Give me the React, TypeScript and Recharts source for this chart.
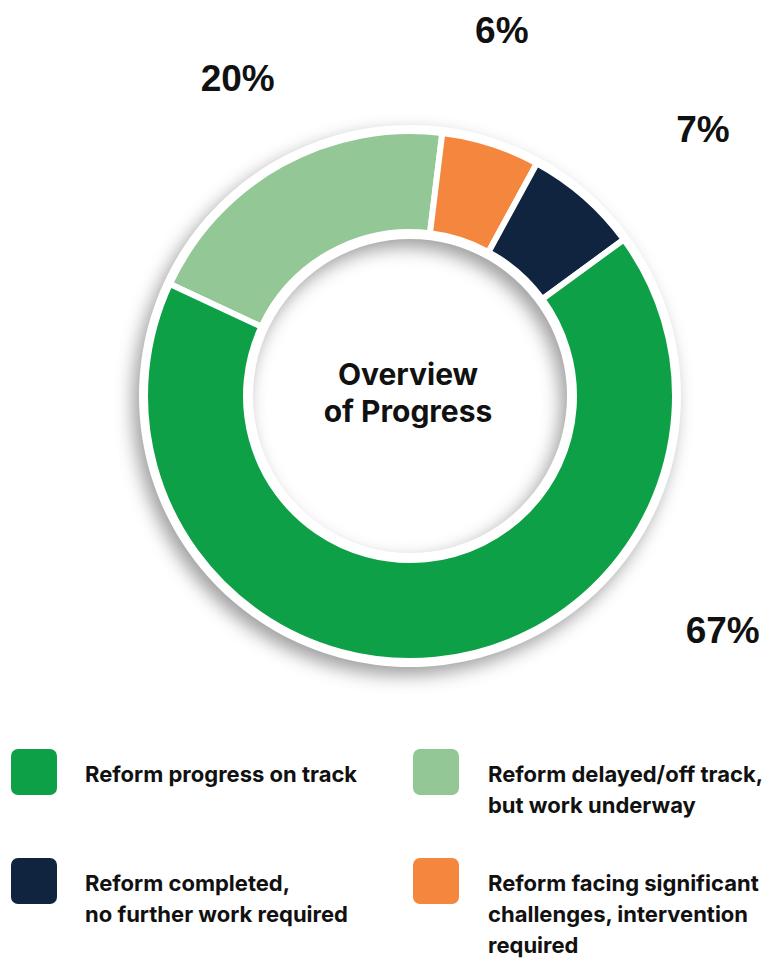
import { PieChart, Pie, Cell } from "recharts";

const CATEGORIES = [
  "Reform delayed/off track, but work underway",
  "Reform facing significant challenges, intervention required",
  "Reform completed, no further work required",
  "Reform progress on track",
];
const VALUES = [20, 6, 7, 67];
const COLORS = ["#94c796", "#f4863e", "#10243f", "#0ea047"];

// where each percentage sits relative to its slice
const LABEL_SPOTS = [
  { turn: -0.5, dist: 361 },
  { turn: 3.7, dist: 377 },
  { turn: -6.5, dist: 396 },
  { turn: 47.5, dist: 391 },
];

// legend grid: [row][col] -> index into CATEGORIES
const LEGEND_ROWS = [
  [3, 0],
  [2, 1],
];
const LEGEND_LINES: Record<number, string[]> = {
  0: ["Reform delayed/off track,", "but work underway"],
  1: ["Reform facing significant", "challenges, intervention", "required"],
  2: ["Reform completed,", "no further work required"],
  3: ["Reform progress on track"],
};

const data = CATEGORIES.map((name, i) => ({ name, value: VALUES[i] }));
const ring = [{ name: "ring", value: 1 }];

const FONT = "Inter, 'Noto Sans', sans-serif";
const NUM_FONT = "'Liberation Sans', Arial, sans-serif";
const RADIAN = Math.PI / 180;

const renderLabel = (props: any) => {
  const { cx, cy, midAngle, index, value } = props;
  const spot = LABEL_SPOTS[index];
  const a = (midAngle + spot.turn) * RADIAN;
  const x = cx + spot.dist * Math.cos(-a);
  const y = cy + spot.dist * Math.sin(-a);
  return (
    <text
      x={x}
      y={y}
      textAnchor="middle"
      dominantBaseline="central"
      fontFamily={NUM_FONT}
      fontWeight={700}
      fontSize={37}
      fill="#111"
    >
      {value}%
    </text>
  );
};

const App = () => {
  return (
    <div
      style={{
        position: "absolute",
        left: 0,
        top: 0,
        width: 767,
        height: 960,
        background: "#fff",
        fontFamily: FONT,
        overflow: "hidden",
      }}
    >
      <div
        style={{
          position: "absolute",
          left: 0,
          top: 0,
          filter: "drop-shadow(-6px 8px 9px rgba(0,0,0,0.38))",
        }}
      >
        <PieChart width={767} height={700}>
          <Pie
            data={ring}
            dataKey="value"
            cx={405}
            cy={391}
            innerRadius={157}
            outerRadius={271}
            stroke="none"
            fill="#fff"
            isAnimationActive={false}
          />
        </PieChart>
      </div>
      <div style={{ position: "absolute", left: 0, top: 0 }}>
        <PieChart width={767} height={700}>
          <Pie
            data={data}
            dataKey="value"
            cx={405}
            cy={391}
            innerRadius={164}
            outerRadius={265}
            startAngle={155}
            endAngle={-205}
            stroke="#fff"
            strokeWidth={6}
            label={renderLabel}
            labelLine={false}
            isAnimationActive={false}
          >
            {data.map((entry, index) => (
              <Cell key={`cell-${index}`} fill={COLORS[index]} />
            ))}
          </Pie>
        </PieChart>
      </div>
      <div
        style={{
          position: "absolute",
          left: 300,
          top: 356,
          width: 216,
          textAlign: "center",
          fontWeight: 700,
          fontSize: 30,
          lineHeight: "37px",
          color: "#111",
        }}
      >
        Overview
        <br />
        of Progress
      </div>
      {LEGEND_ROWS.map((row, r) =>
        row.map((idx, c) => (
          <div key={`${r}-${c}`}>
            <div
              style={{
                position: "absolute",
                left: c === 0 ? 11 : 413,
                top: r === 0 ? 749 : 858,
                width: 46,
                height: 46,
                borderRadius: 7,
                background: COLORS[idx],
              }}
            />
            <div
              style={{
                position: "absolute",
                left: c === 0 ? 85 : 488,
                top: r === 0 ? 759 : 868,
                fontWeight: 700,
                fontSize: 22,
                lineHeight: "31px",
                color: "#111",
                whiteSpace: "nowrap",
              }}
            >
              {LEGEND_LINES[idx].map((line, k) => (
                <div key={k}>{line}</div>
              ))}
            </div>
          </div>
        ))
      )}
    </div>
  );
};

export default App;
